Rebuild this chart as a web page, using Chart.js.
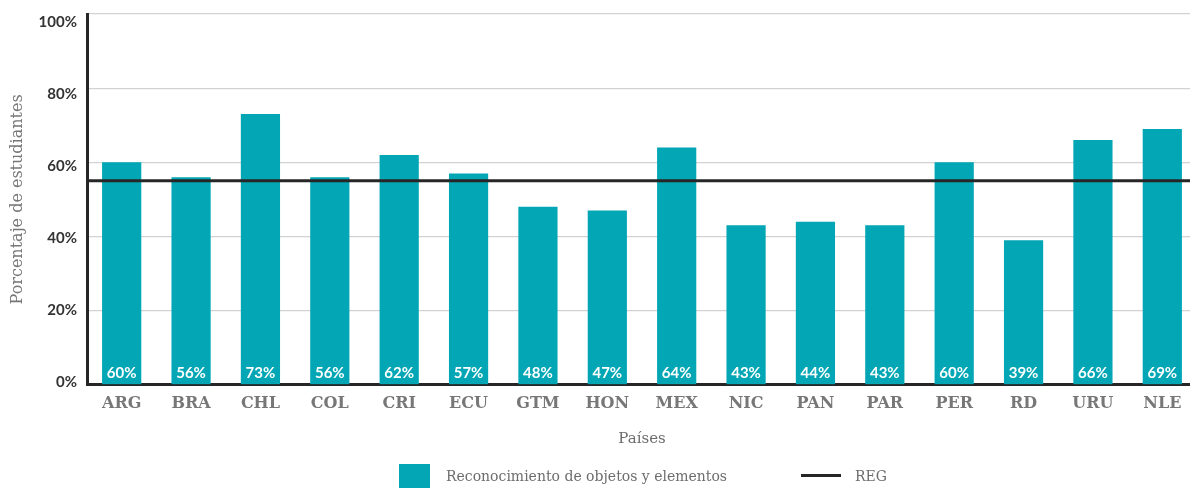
<!DOCTYPE html>
<html>
<head>
<meta charset="utf-8">
<script src="https://cdn.jsdelivr.net/npm/chart.js@4/dist/chart.umd.min.js"></script>
<style>
  html, body { margin: 0; padding: 0; background: #fff; overflow: hidden; width: 1190px; height: 488px; }
  #wrap { position: absolute; left: 0; top: 0; width: 1197px; height: 488px; }
  #legend { position: absolute; left: 0; top: 463px; width: 1190px; height: 25px; font-family: "DejaVu Serif", serif; font-size: 14px; color: #6d6d6d; }
  .li { position: absolute; top: 0; height: 25px; display: flex; align-items: center; white-space: nowrap; }
  .sw { display: inline-block; }
</style>
</head>
<body>
<div id="wrap"><canvas id="c"></canvas></div>
<div id="legend"></div>
<script>
const categories = ["ARG","BRA","CHL","COL","CRI","ECU","GTM","HON","MEX","NIC","PAN","PAR","PER","RD","URU","NLE"];
const seriesName = "Reconocimiento de objetos y elementos";
const values = [60,56,73,56,62,57,48,47,64,43,44,43,60,39,66,69];
const regName = "REG";
const regValue = 55;
const yTicks = [0,20,40,60,80,100];
const yTitle = "Porcentaje de estudiantes";
const xTitle = "Países";

const TEAL = "#02A6B5";
const DARK = "#262626";

const barLabels = {
  id: "barLabels",
  afterDatasetsDraw(chart) {
    const ctx = chart.ctx;
    const meta = chart.getDatasetMeta(1);
    const y0 = chart.scales.y.getPixelForValue(0);
    ctx.save();
    ctx.fillStyle = "#ffffff";
    ctx.font = "bold 15px Lato";
    ctx.textAlign = "center";
    ctx.textBaseline = "alphabetic";
    meta.data.forEach((el, i) => {
      ctx.fillText(values[i] + "%", el.x, y0 - 7);
    });
    ctx.restore();
  }
};

function noPad(scale) { scale.paddingTop = 0; scale.paddingBottom = 0; }

const chart = new Chart(document.getElementById("c"), {
  data: {
    labels: categories,
    datasets: [
      {
        type: "line",
        label: regName,
        xAxisID: "x2",
        data: [{x: 0, y: regValue}, {x: 1, y: regValue}],
        borderColor: DARK,
        borderWidth: 3,
        pointRadius: 0,
        fill: false,
        order: 0
      },
      {
        type: "bar",
        label: seriesName,
        data: values,
        backgroundColor: TEAL,
        grouped: false,
        barPercentage: 0.565,
        categoryPercentage: 1.0,
        order: 1
      }
    ]
  },
  plugins: [barLabels],
  options: {
    responsive: true,
    maintainAspectRatio: false,
    animation: false,
    layout: { padding: { top: 14, left: 4, right: 0, bottom: 40 } },
    plugins: {
      legend: { display: false },
      tooltip: { enabled: false }
    },
    scales: {
      x: {
        type: "category",
        offset: true,
        grid: { display: false, drawTicks: false },
        border: { display: true, color: DARK, width: 3 },
        ticks: { color: "#777", font: { family: "DejaVu Serif", weight: "bold", size: 16 }, padding: 9, maxRotation: 0, autoSkip: false },
        title: { display: true, text: xTitle, color: "#6d6d6d", font: { family: "DejaVu Serif", size: 15 }, padding: { top: 8, bottom: 0 } }
      },
      x2: {
        type: "linear",
        min: 0, max: 1,
        display: false
      },
      y: {
        type: "linear",
        position: "left",
        weight: 0,
        min: 0, max: 100,
        afterBuildTicks(scale) { scale.ticks = yTicks.map(v => ({ value: v })); },
        afterFit(scale) { scale.width = 0; noPad(scale); },
        grid: { color: "#d2d2d2", lineWidth: 1.3, drawTicks: false },
        border: { display: true, color: DARK, width: 3 },
        ticks: { display: false }
      },
      yLab: {
        type: "linear",
        position: "left",
        weight: 1,
        min: -0.7, max: 102.2,
        afterBuildTicks(scale) { scale.ticks = yTicks.map(v => ({ value: v })); },
        afterFit(scale) { scale.width = 83; noPad(scale); },
        grid: { display: false, drawTicks: false },
        border: { display: false },
        ticks: { color: "#333", font: { family: "Lato", weight: "bold", size: 15 }, padding: 10, callback: v => v + "%" },
        title: { display: true, text: yTitle, color: "#777", font: { family: "DejaVu Serif", size: 16 }, padding: { top: 4, bottom: 14 } }
      }
    }
  }
});

// HTML legend built from dataset labels
const lg = document.getElementById("legend");
const item1 = document.createElement("div");
item1.className = "li"; item1.style.left = "399px";
item1.innerHTML = '<span class="sw" style="width:31px;height:24px;background:' + TEAL + ';margin-right:16px"></span>';
item1.appendChild(document.createTextNode(chart.data.datasets[1].label));
const item2 = document.createElement("div");
item2.className = "li"; item2.style.left = "801px";
item2.innerHTML = '<span class="sw" style="width:40px;height:3px;background:' + DARK + ';margin-right:14px"></span>';
item2.appendChild(document.createTextNode(chart.data.datasets[0].label));
lg.appendChild(item1); lg.appendChild(item2);
</script>
</body>
</html>
